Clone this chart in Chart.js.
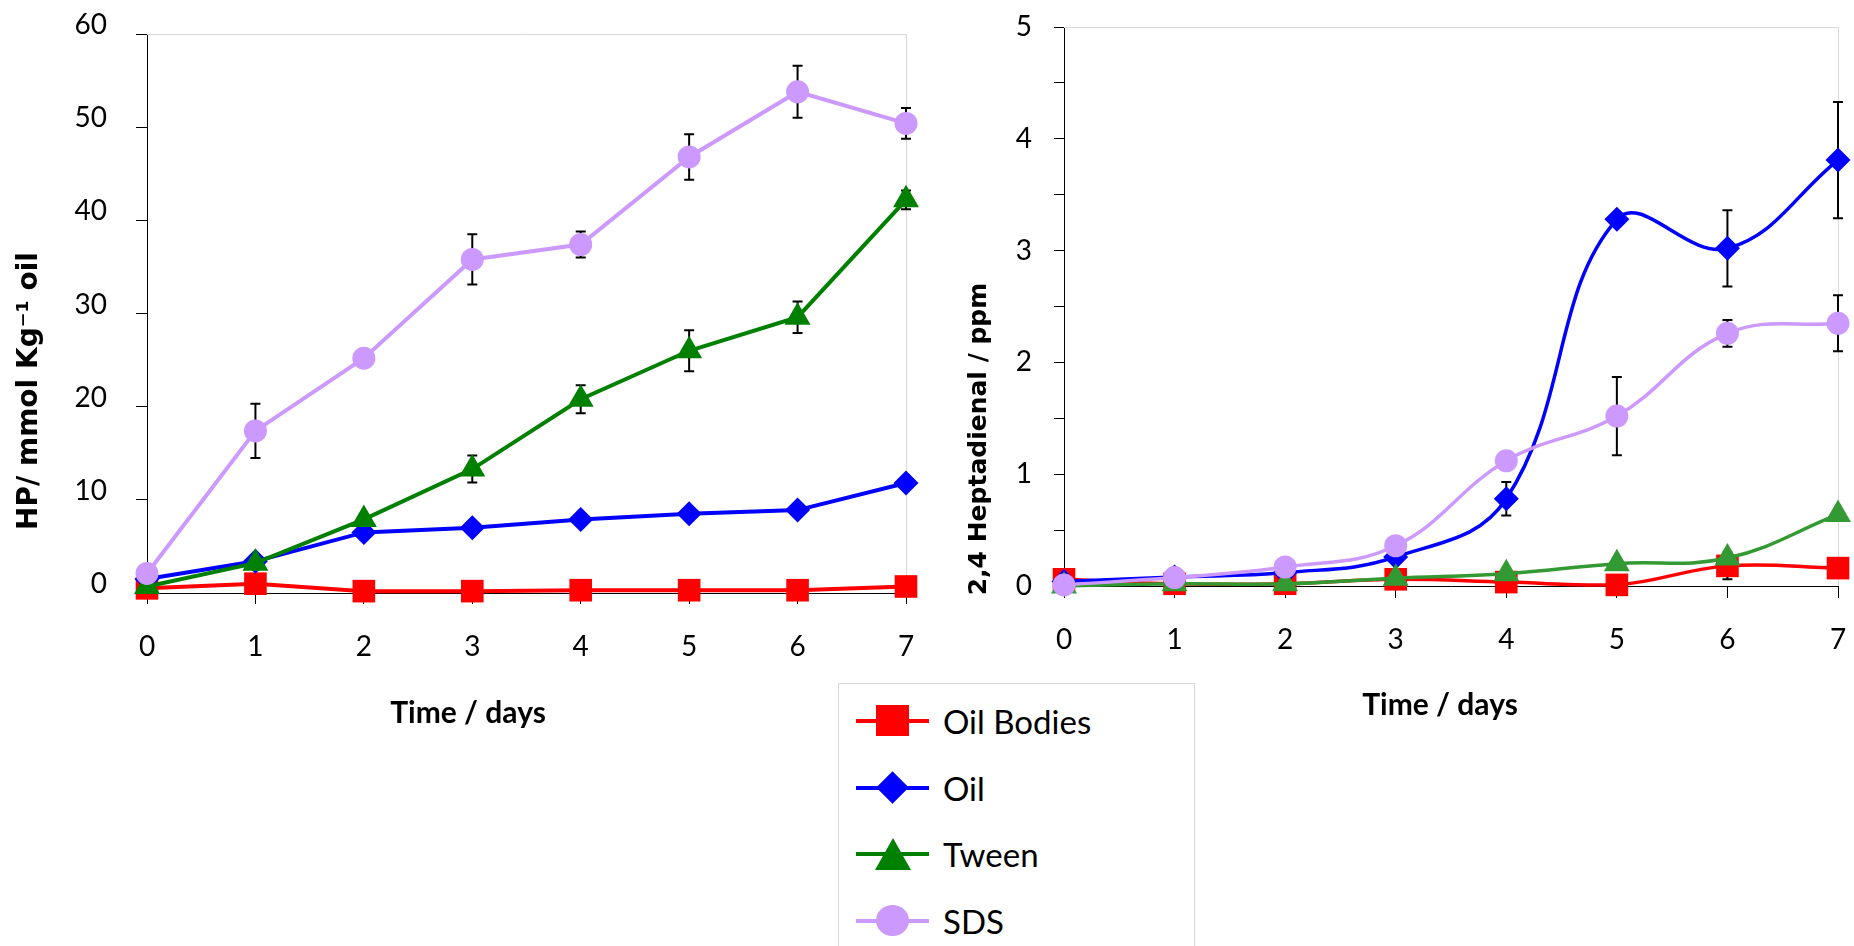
<!DOCTYPE html>
<html>
<head>
<meta charset="utf-8">
<title>HP and 2,4 Heptadienal</title>
<script src="https://cdn.jsdelivr.net/npm/chart.js@4.4.1/dist/chart.umd.min.js"></script>
<style>
  html, body { margin: 0; padding: 0; background: #fff; }
  body { width: 1854px; height: 946px; position: relative; overflow: hidden; font-family: Lato, sans-serif; }
  canvas { position: absolute; top: 0; }
  #hpChart { left: 0; }
  #hepChart { left: 940px; }
  #legend { position: absolute; left: 838px; top: 683px; width: 357px; height: 300px; border: 1px solid #d9d9d9; background: #fff; box-sizing: border-box; }
  #legend .item { position: absolute; left: 0; width: 100%; height: 40px; }
  #legend .ln { position: absolute; left: 17px; top: 18px; width: 73px; height: 4px; }
  #legend .mk { position: absolute; }
  #legend .lbl { position: absolute; left: 104px; top: 0; line-height: 40px; font-size: 33px; color: #000; white-space: nowrap; }
  .mk-rect { left: 37px; top: 4px; width: 33px; height: 31px; }
  .mk-rectRot { left: 42px; top: 8px; width: 23px; height: 23px; transform: rotate(45deg); }
  .mk-triangle { left: 36px; top: 4px; width: 0; height: 0; border-left: 18px solid transparent; border-right: 18px solid transparent; border-bottom-width: 32px; border-bottom-style: solid; }
  .mk-circle { left: 37px; top: 4px; width: 33px; height: 31px; border-radius: 50%; }
</style>
</head>
<body>
<canvas id="hpChart" width="940" height="946"></canvas>
<canvas id="hepChart" width="914" height="946"></canvas>
<div id="legend"></div>
<script>
const days = [0, 1, 2, 3, 4, 5, 6, 7];
const seriesNames = ["Oil Bodies", "Oil", "Tween", "SDS"];

// HP / mmol Kg-1 oil (left panel)
const hpOilBodies = [0.5, 1.0, 0.2, 0.2, 0.3, 0.3, 0.3, 0.7];
const hpOil = [1.5, 3.4, 6.5, 7.0, 7.9, 8.5, 8.9, 11.8];
const hpTween = [0.7, 3.2, 7.9, 13.3, 20.8, 26.0, 29.6, 42.2];
const hpSds = [2.1, 17.4, 25.2, 35.8, 37.4, 46.8, 53.8, 50.4];

const hpOilBodiesErr = [null, null, null, null, null, null, null, null];
const hpOilErr = [null, null, null, null, null, null, null, null];
const hpTweenErr = [null, null, null, 1.45, 1.5, 2.2, 1.7, 1.0];
const hpSdsErr = [null, 2.9, null, 2.7, 1.4, 2.45, 2.8, 1.65];

// 2,4 Heptadienal / ppm (right panel)
const hepOilBodies = [0.06, 0.02, 0.02, 0.06, 0.035, 0.01, 0.18, 0.16];
const hepOil = [0.04, 0.08, 0.12, 0.26, 0.78, 3.28, 3.02, 3.81];
const hepTween = [0.0, 0.02, 0.02, 0.07, 0.11, 0.2, 0.25, 0.64];
const hepSds = [0.01, 0.075, 0.17, 0.36, 1.12, 1.52, 2.26, 2.35];

const hepOilBodiesErr = [null, null, null, null, null, null, 0.12, null];
const hepOilErr = [null, null, null, null, 0.15, null, 0.34, 0.52];
const hepTweenErr = [null, null, null, null, null, null, null, null];
const hepSdsErr = [null, null, null, null, null, 0.35, 0.12, 0.25];

const hpYTicks = [0, 10, 20, 30, 40, 50, 60];
const hepYTicks = [0, 1, 2, 3, 4, 5];

const hpTitleY = "HP/ mmol Kg\u207B\u00B9 oil";
const hepTitleY = "2,4 Heptadienal / ppm";
const titleX = "Time / days";

// look
const hpColors = ["#FF0000", "#0000FF", "#008000", "#CC99FF"];
const hepColors = ["#FF0000", "#0000FF", "#339933", "#CC99FF"];
const markerStyles = ["rect", "rectRot", "triangle", "circle"];
const markerRadius = [16, 12.5, 15, 11.5];

// light grey top/right frame of the plot area
const plotFrame = {
  id: "plotFrame",
  beforeDatasetsDraw(chart) {
    const { ctx, chartArea: a } = chart;
    ctx.save();
    ctx.strokeStyle = "#d9d9d9";
    ctx.lineWidth = 1;
    ctx.beginPath();
    ctx.moveTo(a.left, a.top + 0.5);
    ctx.lineTo(a.right + 0.5, a.top + 0.5);
    ctx.lineTo(a.right + 0.5, a.bottom);
    ctx.stroke();
    ctx.restore();
  }
};

// vertical error bars with small caps, behind the series
const errorBars = {
  id: "errorBars",
  beforeDatasetsDraw(chart) {
    const { ctx } = chart;
    const xs = chart.scales.x;
    const ys = chart.scales.y;
    ctx.save();
    ctx.strokeStyle = "#000";
    ctx.lineWidth = 2;
    chart.data.datasets.forEach((ds) => {
      (ds.errors || []).forEach((e, i) => {
        if (e == null) return;
        const p = ds.data[i];
        const px = xs.getPixelForValue(p.x);
        const top = ys.getPixelForValue(p.y + e);
        const bot = ys.getPixelForValue(p.y - e);
        ctx.beginPath();
        ctx.moveTo(px, top); ctx.lineTo(px, bot);
        ctx.moveTo(px - 5, top); ctx.lineTo(px + 5, top);
        ctx.moveTo(px - 5, bot); ctx.lineTo(px + 5, bot);
        ctx.stroke();
      });
    });
    ctx.restore();
  }
};

// axis titles, placed like the original (not centred on the axes)
const axisTitles = {
  id: "axisTitles",
  afterDraw(chart, _args, opts) {
    const { ctx, chartArea: a } = chart;
    const sx = chart.options.scales.x.title;
    const sy = chart.options.scales.y.title;
    ctx.save();
    ctx.fillStyle = "#000";
    ctx.textAlign = "center";
    ctx.textBaseline = "middle";
    ctx.font = opts.xFont;
    ctx.fillText(sx.text, a.left + opts.xDx, a.bottom + opts.xDy);
    ctx.translate(a.left + opts.yDx, a.bottom + opts.yDy);
    ctx.rotate(-Math.PI / 2);
    ctx.font = opts.yFont;
    ctx.fillText(sy.text, 0, 0);
    ctx.restore();
  }
};

function makeDatasets(valueSets, errSets, palette, smooth) {
  return seriesNames.map((name, i) => ({
    label: name,
    data: days.map((d, j) => ({ x: d, y: valueSets[i][j] })),
    errors: errSets[i],
    borderColor: palette[i],
    backgroundColor: palette[i],
    pointStyle: markerStyles[i],
    pointRadius: markerRadius[i],
    pointHoverRadius: markerRadius[i],
    pointBorderWidth: 0,
    borderWidth: smooth ? 3.5 : 4,
    tension: smooth ? 0.4 : 0,
    order: seriesNames.length - i,
    clip: false
  }));
}

// tick padding would otherwise push the plot area in; the layout padding sets it
function noScalePadding(s) {
  s.paddingTop = 0;
  s.paddingBottom = 0;
  s.paddingLeft = 0;
  s.paddingRight = 0;
}

function makeOptions(cfg) {
  const tickFont = { family: "Lato", size: 28 };
  return {
    responsive: false,
    animation: false,
    events: [],
    layout: { padding: cfg.padding },
    plugins: {
      legend: { display: false },
      tooltip: { enabled: false },
      axisTitles: cfg.titles
    },
    scales: {
      x: {
        type: "linear",
        min: 0,
        max: 7,
        title: { display: false, text: titleX },
        border: { display: true, color: "#000", width: 1 },
        grid: { drawOnChartArea: false, drawTicks: true, tickLength: cfg.xTickLen, color: "#000" },
        ticks: { stepSize: 1, color: "#000", font: tickFont, padding: cfg.xPad },
        afterFit: (s) => { s.height = 100; noScalePadding(s); }
      },
      y: {
        min: 0,
        max: cfg.yMax,
        title: { display: false, text: cfg.yTitle },
        border: { display: true, color: "#000", width: 1 },
        grid: { drawOnChartArea: false, drawTicks: true, tickLength: cfg.yTickLen, color: "#000" },
        ticks: {
          stepSize: cfg.yStep,
          color: "#000",
          font: tickFont,
          padding: cfg.yPad,
          labelOffset: cfg.yLabelOffset,
          callback: (v) => (cfg.yLabels.includes(v) ? String(v) : "")
        },
        afterFit: (s) => { s.width = cfg.yWidth; noScalePadding(s); }
      }
    }
  };
}

function buildHpChart() {
  return new Chart(document.getElementById("hpChart"), {
    type: "line",
    data: { datasets: makeDatasets([hpOilBodies, hpOil, hpTween, hpSds], [hpOilBodiesErr, hpOilErr, hpTweenErr, hpSdsErr], hpColors, false) },
    options: makeOptions({
      padding: { left: 0, top: 34, right: 34, bottom: 253 },
      yMax: 60, yStep: 10, yLabels: hpYTicks, yWidth: 147, yPad: 29, yTickLen: 11, yLabelOffset: -9,
      xPad: 26, xTickLen: 11, yTitle: hpTitleY,
      titles: { xFont: "bold 30px Lato", yFont: "bold 28px 'DejaVu Sans'", xDx: 321, xDy: 120, yDx: -117, yDy: -202 }
    }),
    plugins: [plotFrame, errorBars, axisTitles]
  });
}

function buildHepChart() {
  return new Chart(document.getElementById("hepChart"), {
    type: "line",
    data: { datasets: makeDatasets([hepOilBodies, hepOil, hepTween, hepSds], [hepOilBodiesErr, hepOilErr, hepTweenErr, hepSdsErr], hepColors, true) },
    options: makeOptions({
      padding: { left: 0, top: 27, right: 16, bottom: 260 },
      yMax: 5, yStep: 0.5, yLabels: hepYTicks, yWidth: 124, yPad: 22, yTickLen: 10, yLabelOffset: 0,
      xPad: 25, xTickLen: 12, yTitle: hepTitleY,
      titles: { xFont: "bold 30px Lato", yFont: "bold 25px 'DejaVu Sans'", xDx: 376, xDy: 119, yDx: -85, yDy: -147 }
    }),
    plugins: [plotFrame, errorBars, axisTitles]
  });
}

function buildLegend(chart) {
  const box = document.getElementById("legend");
  const centers = [37, 104, 170, 237];
  chart.data.datasets.forEach((ds, i) => {
    const item = document.createElement("div");
    item.className = "item";
    item.style.top = (centers[i] - 20) + "px";
    const ln = document.createElement("span");
    ln.className = "ln";
    ln.style.background = ds.borderColor;
    const mk = document.createElement("span");
    mk.className = "mk mk-" + ds.pointStyle;
    if (ds.pointStyle === "triangle") mk.style.borderBottomColor = ds.backgroundColor;
    else mk.style.background = ds.backgroundColor;
    const lbl = document.createElement("span");
    lbl.className = "lbl";
    lbl.textContent = ds.label;
    item.append(ln, mk, lbl);
    box.appendChild(item);
  });
}

const hpChart = buildHpChart();
buildHepChart();
buildLegend(hpChart);
</script>
</body>
</html>
